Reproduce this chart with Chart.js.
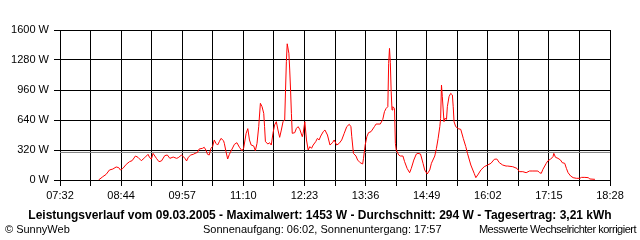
<!DOCTYPE html>
<html>
<head>
<meta charset="utf-8">
<script src="https://cdn.jsdelivr.net/npm/chart.js@4.4.1/dist/chart.umd.min.js"></script>
<style>
    body { margin: 0; background: #fff; }
    #rahmen { position: relative; width: 640px; height: 240px; overflow: hidden;
              font-family: "Liberation Sans", Arial, sans-serif; color: #000; }
    #diagramm { position: absolute; left: 0; top: 0; }
    .text { position: absolute; font-size: 11px; line-height: 13px; white-space: nowrap; }
    #titel { top: 208px; left: 0; width: 640px; text-align: center; font-weight: bold; font-size: 12px; line-height: 14px; }
    #copyright { top: 223px; left: 5px; }
    #sonne { top: 223px; left: 203px; }
    #hinweis { top: 223px; right: 4px; letter-spacing: -0.5px; }
</style>
</head>
<body>
<div id="rahmen">
    <canvas id="diagramm" width="640" height="240"></canvas>
    <div id="titel" class="text">Leistungsverlauf vom 09.03.2005 - Maximalwert: 1453 W - Durchschnitt: 294 W - Tagesertrag: 3,21 kWh</div>
    <div id="copyright" class="text">© SunnyWeb</div>
    <div id="sonne" class="text">Sonnenaufgang: 06:02, Sonnenuntergang: 17:57</div>
    <div id="hinweis" class="text">Messwerte Wechselrichter korrigiert</div>
</div>
<script>
let zeiten = [
    "08:18", "08:23", "08:27", "08:31", "08:35", "08:39", "08:42", "08:44", "08:47", "08:51",
    "08:55", "08:58", "09:02", "09:05", "09:09", "09:13", "09:17", "09:19", "09:21", "09:23",
    "09:27", "09:30", "09:33", "09:37", "09:40", "09:43", "09:47", "09:51", "09:53", "09:57",
    "10:01", "10:03", "10:05", "10:08", "10:11", "10:13", "10:16", "10:18", "10:22", "10:24",
    "10:26", "10:28", "10:30", "10:32", "10:34", "10:36", "10:38", "10:40", "10:42", "10:44",
    "10:47", "10:48", "10:50", "10:52", "10:54", "10:56", "11:00", "11:03", "11:06", "11:09",
    "11:11", "11:14", "11:16", "11:18", "11:20", "11:23", "11:25", "11:27", "11:29", "11:31",
    "11:33", "11:35", "11:36", "11:37", "11:40", "11:42", "11:44", "11:46", "11:48", "11:50",
    "11:52", "11:54", "11:56", "11:58", "12:00", "12:01", "12:02", "12:03", "12:05", "12:06",
    "12:07", "12:08", "12:09", "12:12", "12:14", "12:16", "12:18", "12:21", "12:22", "12:24",
    "12:26", "12:28", "12:30", "12:32", "12:34", "12:37", "12:39", "12:41", "12:43", "12:46",
    "12:48", "12:51", "12:54", "12:57", "12:59", "13:02", "13:05", "13:08", "13:11", "13:14",
    "13:17", "13:19", "13:20", "13:22", "13:25", "13:27", "13:30", "13:33", "13:34", "13:36",
    "13:38", "13:40", "13:43", "13:47", "13:49", "13:54", "13:57", "13:59", "14:01", "14:03",
    "14:04", "14:05", "14:06", "14:07", "14:08", "14:09", "14:11", "14:12", "14:13", "14:16",
    "14:18", "14:21", "14:23", "14:26", "14:29", "14:31", "14:34", "14:37", "14:39", "14:42",
    "14:45", "14:47", "14:50", "14:53", "14:55", "14:59", "15:01", "15:03", "15:05", "15:06",
    "15:07", "15:08", "15:10", "15:11", "15:13", "15:14", "15:16", "15:18", "15:20", "15:21",
    "15:22", "15:24", "15:27", "15:30", "15:33", "15:36", "15:38", "15:42", "15:46", "15:48",
    "15:51", "15:54", "15:58", "16:02", "16:06", "16:10", "16:13", "16:16", "16:20", "16:24",
    "16:26", "16:32", "16:37", "16:40", "16:44", "16:48", "16:52", "16:56", "17:02", "17:04",
    "17:06", "17:08", "17:12", "17:14", "17:17", "17:20", "17:21", "17:23", "17:26", "17:29",
    "17:31", "17:34", "17:36", "17:38", "17:41", "17:44", "17:48", "17:52", "17:54", "17:58",
    "18:02", "18:04", "18:10"
];

// Leistung in W
let leistung = [
    0, 35, 60, 107, 117, 139, 132, 107, 124, 167,
    196, 206, 256, 242, 206, 238, 274, 238, 224, 284,
    231, 196, 203, 260, 267, 231, 245, 231, 238, 267,
    231, 203, 242, 267, 274, 284, 295, 331, 338, 349,
    320, 274, 267, 338, 356, 427, 391, 373, 409, 444,
    420, 391, 302, 224, 274, 309, 380, 398, 349, 313,
    338, 498, 548, 427, 373, 363, 313, 391, 569, 818,
    782, 711, 569, 409, 384, 398, 373, 498, 587, 622,
    533, 455, 533, 622, 640, 960, 1262, 1453, 1351, 1173,
    960, 711, 498, 505, 551, 569, 540, 462, 498, 622,
    427, 320, 356, 338, 373, 409, 444, 427, 469, 516,
    533, 480, 373, 398, 427, 373, 391, 427, 498, 569,
    594, 569, 462, 284, 256, 213, 185, 171, 231, 373,
    462, 505, 516, 569, 597, 597, 647, 729, 764, 782,
    1244, 1404, 1251, 942, 747, 782, 764, 391, 320, 267,
    256, 256, 196, 124, 78, 124, 213, 277, 284, 277,
    178, 107, 64, 107, 178, 256, 338, 444, 569, 658,
    1013, 889, 622, 658, 647, 782, 889, 924, 907, 782,
    622, 569, 548, 540, 444, 356, 284, 160, 71, 25,
    64, 107, 142, 160, 178, 221, 224, 185, 160, 149,
    149, 142, 124, 89, 89, 78, 96, 96, 96, 78,
    71, 114, 178, 206, 221, 249, 284, 242, 231, 213,
    185, 178, 124, 78, 43, 25, 18, 18, 28, 28,
    25, 11, 7
];

let durchschnitt = 294;
let xLabels = ["07:32", "08:44", "09:57", "11:10", "12:23", "13:36", "14:49", "16:02", "17:15", "18:28"];
let yTicks = [0, 320, 640, 960, 1280, 1600];

let schrift = { family: "'Liberation Sans', Arial, sans-serif", size: 11 };


function zuMinuten(zeit){
    let teile = zeit.split(":");
    return parseInt(teile[0]) * 60 + parseInt(teile[1]);
}


function afficherLeistung(){
    let xMin = zuMinuten(xLabels[0]);
    let xMax = zuMinuten(xLabels[xLabels.length - 1]);
    let schritte = (xLabels.length - 1) * 2;

    let gitter = [];
    for (let i = 0; i <= schritte; i++) {
        gitter.push({ value: xMin + i * (xMax - xMin) / schritte });
    }

    let punkte = zeiten.map(function (z, i) {
        return { x: zuMinuten(z), y: leistung[i] };
    });

    let cvs = document.getElementById('diagramm').getContext('2d');
    let chartLeistung = new Chart(cvs, {
        type: 'line',
        data: {
            datasets: [{
                label: "Leistung",
                data: punkte,
                borderColor: "rgb(255, 0, 0)",
                borderWidth: 1,
                pointRadius: 0,
                tension: 0,
                order: 1
            }, {
                label: "Durchschnitt",
                data: [{ x: xMin, y: durchschnitt }, { x: xMax, y: durchschnitt }],
                borderColor: "rgb(128, 128, 128)",
                borderWidth: 1,
                pointRadius: 0,
                order: 2
            }]
        },
        options: {
            responsive: false,
            animation: false,
            layout: { padding: { top: 30, right: 30, left: 0, bottom: 0 } },
            plugins: { legend: { display: false }, tooltip: { enabled: false } },
            scales: {
                x: {
                    type: 'linear',
                    min: xMin,
                    max: xMax,
                    afterBuildTicks: function (s) { s.ticks = gitter.slice(); },
                    afterFit: function (s) { s.height = 60; },
                    grid: { color: "#000", tickColor: "#000", tickLength: 6 },
                    border: { color: "#000" },
                    ticks: {
                        color: "#000",
                        font: schrift,
                        padding: 3,
                        maxRotation: 0,
                        autoSkip: false,
                        callback: function (v, i) { return i % 2 === 0 ? xLabels[i / 2] : ""; }
                    }
                },
                y: {
                    min: 0,
                    max: 1600,
                    afterBuildTicks: function (s) { s.ticks = yTicks.map(function (t) { return { value: t }; }); },
                    afterFit: function (s) { s.width = 60; },
                    grid: { color: "#000", tickColor: "#000", tickLength: 6 },
                    border: { color: "#000" },
                    ticks: {
                        color: "#000",
                        font: schrift,
                        padding: 5,
                        callback: function (v) { return v + " W"; }
                    }
                }
            }
        }
    });
}

afficherLeistung();
</script>
</body>
</html>
